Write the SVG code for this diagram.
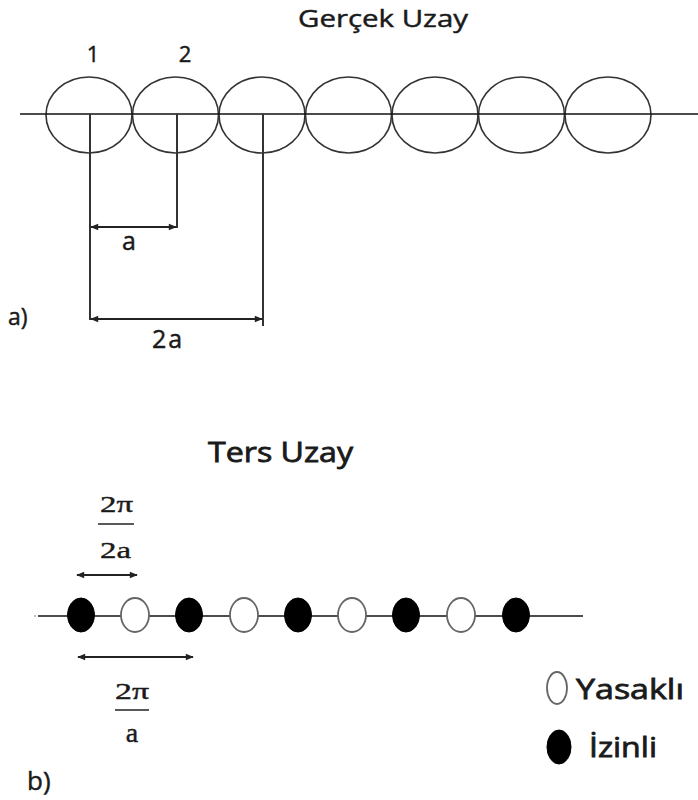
<svg xmlns="http://www.w3.org/2000/svg" width="698" height="800" viewBox="0 0 698 800">
<defs>
<style>
.bg{fill:#fff}
.sans{font-family:"Open Sans","Noto Sans",sans-serif;fill:#1a1a1a;stroke:#1a1a1a;stroke-width:0.45}
.semi{stroke-width:0.8}
.serif{font-family:"Liberation Serif","Times New Roman",serif;fill:#1a1a1a;stroke:#1a1a1a;stroke-width:0.4}
.atom{fill:none;stroke:#333;stroke-width:1.6}
.axis{stroke:#111;stroke-width:1.5;fill:none}
.dim{stroke:#333;stroke-width:2;fill:none}
.arr{stroke:#222;stroke-width:2;fill:none;marker-start:url(#ah);marker-end:url(#ah)}
.bar{stroke:#222;stroke-width:1.6}
.open{fill:#fff;stroke:#666;stroke-width:1.8}
.full{fill:#000;stroke:#000;stroke-width:1}
</style>
<marker id="ah" viewBox="0 0 10 10" refX="9" refY="5" markerWidth="9" markerHeight="8" markerUnits="userSpaceOnUse" orient="auto-start-reverse">
<path d="M0,1 L10,5 L0,9 z" fill="#222"/>
</marker>
</defs>
<rect class="bg" x="0" y="0" width="698" height="800"/>

<!-- Part a: real space -->
<text class="sans" x="298" y="27" font-size="24" textLength="170" lengthAdjust="spacingAndGlyphs">Gerçek Uzay</text>
<text class="sans" x="93" y="62" font-size="22" text-anchor="middle">1</text>
<text class="sans" x="185" y="62" font-size="22" text-anchor="middle">2</text>

<g id="atoms">
<g id="atom1"><ellipse class="atom" cx="89" cy="115" rx="43" ry="38"/></g>
<g id="atom2"><ellipse class="atom" cx="175.5" cy="115" rx="43" ry="38"/></g>
<g id="atom3"><ellipse class="atom" cx="262" cy="115" rx="43" ry="38"/></g>
<g id="atom4"><ellipse class="atom" cx="348.5" cy="115" rx="43" ry="38"/></g>
<g id="atom5"><ellipse class="atom" cx="435" cy="115" rx="43" ry="38"/></g>
<g id="atom6"><ellipse class="atom" cx="521.5" cy="115" rx="43" ry="38"/></g>
<g id="atom7"><ellipse class="atom" cx="608" cy="115" rx="43" ry="38"/></g>
</g>
<line class="axis" x1="20" y1="114" x2="698" y2="114"/>

<g id="connectors-a">
<line class="dim" x1="90" y1="114" x2="90" y2="320"/>
<line class="dim" x1="177" y1="114" x2="177" y2="228"/>
<line class="dim" x1="263" y1="114" x2="263" y2="326"/>
<line class="arr" x1="91" y1="227" x2="176" y2="227"/>
<line class="arr" x1="91" y1="319" x2="262" y2="319"/>
</g>
<text class="sans" x="129" y="250" font-size="25" text-anchor="middle">a</text>
<text class="sans" x="168" y="348" font-size="25" text-anchor="middle" letter-spacing="2">2a</text>
<text class="sans" x="8" y="325" font-size="23">a)</text>

<!-- Part b: reciprocal space -->
<text class="sans semi" x="208" y="462" font-size="28" textLength="145" lengthAdjust="spacingAndGlyphs">Ters Uzay</text>

<text class="serif" x="100" y="512" font-size="24" textLength="33" lengthAdjust="spacingAndGlyphs">2π</text>
<line class="bar" x1="98" y1="524" x2="134" y2="524"/>
<text class="serif" x="100" y="558" font-size="24" textLength="31" lengthAdjust="spacingAndGlyphs">2a</text>

<line class="axis" x1="38" y1="616" x2="583" y2="616"/>
<circle cx="35" cy="616" r="0.8" fill="#666"/>

<g id="connectors-b">
<line class="arr" x1="77" y1="575" x2="137" y2="575"/>
<line class="arr" x1="78" y1="657" x2="193" y2="657"/>
</g>

<g id="points">
<g id="k1"><ellipse class="full" cx="81" cy="615" rx="13.5" ry="17"/></g>
<g id="k2"><ellipse class="open" cx="135" cy="615" rx="14" ry="17"/></g>
<g id="k3"><ellipse class="full" cx="189" cy="615" rx="13.5" ry="17"/></g>
<g id="k4"><ellipse class="open" cx="244" cy="615" rx="14" ry="17"/></g>
<g id="k5"><ellipse class="full" cx="298" cy="615" rx="13.5" ry="17"/></g>
<g id="k6"><ellipse class="open" cx="352" cy="615" rx="14" ry="17"/></g>
<g id="k7"><ellipse class="full" cx="406" cy="615" rx="13.5" ry="17"/></g>
<g id="k8"><ellipse class="open" cx="461" cy="615" rx="14" ry="17"/></g>
<g id="k9"><ellipse class="full" cx="516" cy="615" rx="13.5" ry="17"/></g>
</g>

<text class="serif" x="115" y="699" font-size="24" textLength="34" lengthAdjust="spacingAndGlyphs">2π</text>
<line class="bar" x1="115" y1="710" x2="149" y2="710"/>
<text class="serif" x="132" y="742" font-size="28" text-anchor="middle">a</text>

<text class="sans" x="27" y="790" font-size="26">b)</text>

<g id="legend-yasakli">
<ellipse class="open" cx="557" cy="688" rx="10" ry="16"/>
<text class="sans semi" x="576" y="699" font-size="28" textLength="108" lengthAdjust="spacingAndGlyphs">Yasaklı</text>
</g>
<g id="legend-izinli">
<ellipse class="full" cx="559" cy="747" rx="12" ry="17"/>
<text class="sans semi" x="589" y="757" font-size="28" textLength="68" lengthAdjust="spacingAndGlyphs">İzinli</text>
</g>
</svg>
